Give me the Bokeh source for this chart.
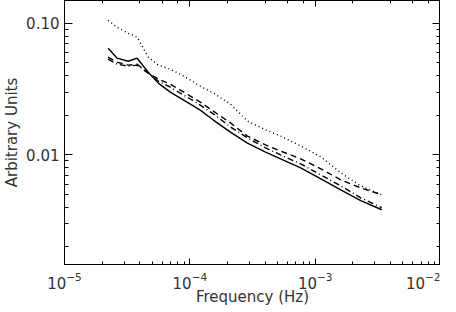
from bokeh.plotting import figure
from bokeh.models import LogAxis, PrintfTickFormatter, Range1d, FixedTicker
from bokeh.embed import file_html
from bokeh.resources import INLINE

# Frequencies (Hz)
freq = [2.23e-5, 2.63e-5, 3.22e-5, 3.80e-5, 4.66e-5, 5.60e-5, 6.98e-5, 8.39e-5,
        1.01e-4, 1.21e-4, 1.54e-4, 2.11e-4, 2.88e-4, 4.02e-4, 5.30e-4, 7.66e-4,
        1.11e-3, 1.60e-3, 2.31e-3, 3.40e-3]

# Series (arbitrary units)
solid = [0.0647, 0.0543, 0.0515, 0.0543, 0.0425, 0.0351, 0.0300, 0.0270,
         0.0243, 0.0219, 0.0184, 0.0149, 0.0123, 0.0105, 0.00933, 0.00798,
         0.00658, 0.00543, 0.00449, 0.00383]
dotted = [0.1054, 0.0932, 0.0840, 0.0783, 0.0553, 0.0481, 0.0448, 0.0411,
          0.0370, 0.0333, 0.0295, 0.0243, 0.0181, 0.0155, 0.0139, 0.0117,
          0.00966, 0.00731, 0.00582, 0.00498]
dashed = [0.0553, 0.0506, 0.0481, 0.0489, 0.0418, 0.0377, 0.0345, 0.0311,
          0.0280, 0.0252, 0.0215, 0.0175, 0.0139, 0.0119, 0.0107, 0.00933,
          0.00783, 0.00647, 0.00562, 0.00498]
dashdot = [0.0534, 0.0489, 0.0472, 0.0481, 0.0418, 0.0364, 0.0327, 0.0295,
           0.0266, 0.0239, 0.0205, 0.0163, 0.0135, 0.0113, 0.0100, 0.00855,
           0.00705, 0.00582, 0.00472, 0.00397]

x_label = "Frequency (Hz)"
y_label = "Arbitrary Units"
y_major_ticks = [0.01, 0.1]
y_minor_ticks = [0.002, 0.003, 0.004, 0.005, 0.006, 0.007, 0.008, 0.009,
                 0.02, 0.03, 0.04, 0.05, 0.06, 0.07, 0.08, 0.09]

FONT = "DejaVu Sans"
TXT = "#333333"

X_MIN, X_MAX = 1e-5, 1e-2
Y_MIN, Y_MAX = 0.00147, 0.149

p = figure(width=440, height=308, x_axis_type="log", y_axis_type="log",
           x_range=Range1d(X_MIN, X_MAX), y_range=Range1d(Y_MIN, Y_MAX),
           output_backend="svg", toolbar_location=None,
           min_border_left=0, min_border_right=0, min_border_top=0,
           min_border_bottom=0)
p.grid.visible = False
p.outline_line_color = "black"
p.background_fill_color = "white"
p.border_fill_color = "white"

def style_axis(ax, major, minor):
    ax.axis_line_color = "black"
    ax.axis_line_width = 1
    ax.major_tick_line_color = "black"
    ax.minor_tick_line_color = "black"
    ax.major_tick_in = major
    ax.major_tick_out = 0
    ax.minor_tick_in = minor
    ax.minor_tick_out = 0
    ax.major_label_text_font = FONT
    ax.major_label_text_font_size = "15px"
    ax.major_label_text_color = TXT
    ax.axis_label_text_font = FONT
    ax.axis_label_text_font_size = "15px"
    ax.axis_label_text_font_style = "normal"
    ax.axis_label_text_color = TXT

xa = p.xaxis[0]
style_axis(xa, 6, 3)
xa.axis_label = x_label
xa.major_label_standoff = 7
xa.axis_label_standoff = -4

ya = p.yaxis[0]
style_axis(ya, 8, 4)
ya.axis_label = y_label
ya.ticker = FixedTicker(ticks=y_major_ticks, minor_ticks=y_minor_ticks)
ya.formatter = PrintfTickFormatter(format="%.2f")
ya.major_label_standoff = 5
ya.axis_label_standoff = 2

top = LogAxis()
style_axis(top, 6, 3)
top.major_label_text_font_size = "1px"
top.major_label_text_alpha = 0
top.major_label_standoff = 0
p.add_layout(top, "above")

right = LogAxis()
style_axis(right, 8, 4)
right.ticker = FixedTicker(ticks=y_major_ticks, minor_ticks=y_minor_ticks)
right.major_label_text_font_size = "1px"
right.major_label_text_alpha = 0
right.major_label_standoff = 0
p.add_layout(right, "right")

p.line(freq, solid, line_color="black", line_width=1.4)
p.line(freq, dotted, line_color="black", line_width=1.4, line_dash="1 3")
p.line(freq, dashed, line_color="black", line_width=1.4, line_dash="6 4")
p.line(freq, dashdot, line_color="black", line_width=1.4, line_dash="6 3 1 3")

open("out.html", "w").write(file_html(p, INLINE))
